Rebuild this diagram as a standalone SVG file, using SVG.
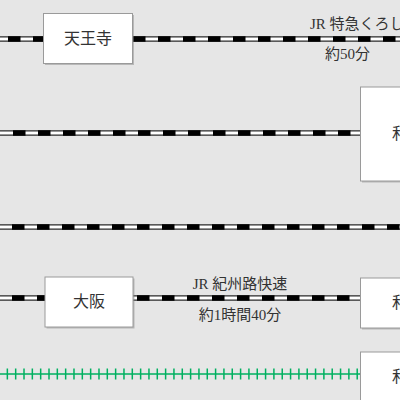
<svg xmlns="http://www.w3.org/2000/svg" width="400" height="400" viewBox="0 0 400 400">
<style>
.rb{stroke:#2a2a2a;stroke-width:5.5;fill:none}
.rw{stroke:#ffffff;stroke-width:3;fill:none}
.rk{stroke:#000;stroke-width:5.5;fill:none;stroke-dasharray:12.5 12.5}
.g{stroke:#00b060;stroke-width:1.5;fill:none}
.gt{stroke:#00b060;stroke-width:11;fill:none;stroke-dasharray:1.5 6.83}
.box{fill:#ffffff;stroke:#9a9a9a;stroke-width:1}
.sh{fill:#8a8a8a;opacity:0.5}
.bt{font-family:"Liberation Sans","Noto Sans CJK JP",sans-serif;font-size:16px;fill:#333;dominant-baseline:central}
.lb{font-family:"Liberation Serif","Noto Sans CJK JP",serif;font-size:15px;fill:#333}
</style>
<rect x="0" y="0" width="400" height="400" fill="#e6e6e6"/>
<g id="connectors">
<g id="line1">
<line class="rb" x1="0" y1="39" x2="400" y2="39"/>
<line class="rw" x1="0" y1="39" x2="400" y2="39"/>
<line class="rk" x1="8" y1="39" x2="400" y2="39"/>
</g>
<g id="line2">
<line class="rb" x1="0" y1="133" x2="361" y2="133"/>
<line class="rw" x1="0" y1="133" x2="361" y2="133"/>
<line class="rk" x1="13" y1="133" x2="361" y2="133"/>
</g>
<g id="line3">
<line class="rb" x1="0" y1="227" x2="400" y2="227"/>
<line class="rw" x1="0" y1="227" x2="400" y2="227"/>
<line class="rk" x1="12" y1="227" x2="400" y2="227"/>
</g>
<g id="line4">
<line class="rb" x1="0" y1="298" x2="361" y2="298"/>
<line class="rw" x1="0" y1="298" x2="361" y2="298"/>
<line class="rk" x1="12" y1="298" x2="361" y2="298"/>
</g>
<g id="line5">
<line class="g" x1="0" y1="374" x2="360" y2="374"/>
<line class="gt" x1="6.6" y1="374" x2="359" y2="374"/>
</g>
<text class="lb" x="310" y="29">JR 特急くろしお</text>
<text class="lb" x="347.5" y="59" text-anchor="middle">約50分</text>
<text class="lb" x="240" y="289" text-anchor="middle">JR 紀州路快速</text>
<text class="lb" x="240" y="320" text-anchor="middle">約1時間40分</text>
</g>
<g id="tennoji">
<rect class="sh" x="45" y="15" width="89" height="50"/>
<rect class="box" x="43.5" y="13.5" width="89" height="50"/>
<text class="bt" x="88" y="38.5" text-anchor="middle">天王寺</text>
</g>
<g id="wakayama1">
<rect class="sh" x="362" y="88.5" width="110" height="94"/>
<rect class="box" x="360.5" y="87" width="110" height="94"/>
<text class="bt" x="392" y="133">和歌山</text>
</g>
<g id="osaka">
<rect class="sh" x="46.5" y="278.5" width="88" height="50"/>
<rect class="box" x="45" y="277" width="88" height="50"/>
<text class="bt" x="89" y="301" text-anchor="middle">大阪</text>
</g>
<g id="wakayama2">
<rect class="sh" x="362" y="279.5" width="110" height="50"/>
<rect class="box" x="360.5" y="278" width="110" height="50"/>
<text class="bt" x="392" y="302">和歌山</text>
</g>
<g id="wakayama3">
<rect class="sh" x="362" y="353.5" width="110" height="50"/>
<rect class="box" x="360.5" y="352" width="110" height="50"/>
<text class="bt" x="392" y="376">和歌山</text>
</g>
</svg>
